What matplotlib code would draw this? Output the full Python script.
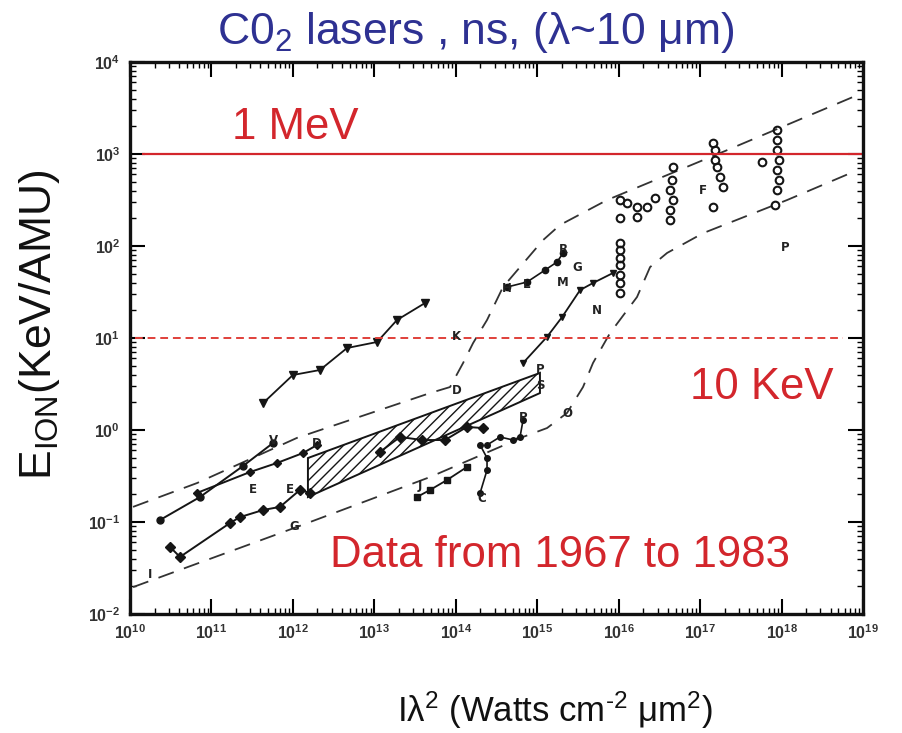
import numpy as np
import matplotlib
matplotlib.use('Agg')
import matplotlib.pyplot as plt
from matplotlib.ticker import LogLocator, NullFormatter

plt.rcParams['font.family'] = ['Liberation Sans', 'DejaVu Sans']
plt.rcParams['mathtext.fontset'] = 'custom'
plt.rcParams['mathtext.rm'] = 'Liberation Sans'
plt.rcParams['mathtext.it'] = 'Liberation Sans:italic'
plt.rcParams['mathtext.bf'] = 'Liberation Sans:bold'
plt.rcParams['mathtext.default'] = 'regular'
plt.rcParams['hatch.linewidth'] = 1.0

# ---------------- data ----------------
upper_env_x = [1.09e10, 6.65e10, 1.12e12, 4.83e13, 8.5e13, 1.23e14, 1.63e14, 2.42e14,
               3.8e14, 6.15e14, 1.18e15, 1.9e15, 7.2e15, 2.14e17, 7.55e18]
upper_env_y = [0.146, 0.265, 0.82, 2.52, 2.93, 5.35, 8.8, 15.7, 35.8, 59, 116, 169,
               316, 1100, 4170]
lower_env_x = [1.09e10, 1.12e12, 4.83e13, 6.7e14, 1.32e15, 2.32e15, 3.65e15, 4.84e15,
               7.83e15, 1.68e16, 2.43e16, 3.93e16, 1.09e17, 1.17e18, 7.55e18]
lower_env_y = [0.0196, 0.0883, 0.308, 0.84, 1.05, 1.53, 2.93, 5.35, 11.3, 27.9, 59, 84,
               138, 316, 637]

tri_x = [4.3e11, 1.0e12, 2.15e12, 4.62e12, 1.08e13, 1.9e13, 4.19e13]
tri_y = [1.96, 3.96, 4.49, 7.78, 9.05, 15.7, 24.0]

s2a_x = [2.33e10, 7.24e10, 2.44e11, 5.7e11]
s2a_y = [0.105, 0.187, 0.406, 0.722]
s2b_x = [6.65e10, 2.97e11, 6.38e11, 1.33e12, 1.98e12]
s2b_y = [0.207, 0.349, 0.438, 0.562, 0.687]

s3_x = [3.1e10, 4.11e10, 1.69e11, 2.24e11, 4.3e11, 6.95e11, 1.22e12, 1.62e12]
s3_y = [0.0535, 0.0417, 0.0975, 0.113, 0.135, 0.146, 0.223, 0.207]

hatch_x = [1.53e12, 1.08e15, 1.08e15, 1.53e12]
hatch_y = [0.496, 4.17, 2.52, 0.187]

s4_x = [1.17e13, 2.07e13, 3.85e13, 7.38e13, 1.37e14, 2.16e14]
s4_y = [0.577, 0.84, 0.778, 0.778, 1.08, 1.05]

j_x = [3.34e13, 4.83e13, 7.8e13, 1.37e14]
j_y = [0.187, 0.223, 0.286, 0.396]

c_x = [1.99e14, 2.42e14, 2.42e14, 1.99e14]
c_y = [0.687, 0.496, 0.367, 0.207]

p_x = [2.42e14, 3.49e14, 5.05e14, 6.15e14, 6.7e14]
p_y = [0.687, 0.84, 0.778, 0.84, 1.28]

rise_x = [6.7e14, 1.32e15, 2.02e15, 3.36e15, 4.84e15, 8.53e15]
rise_y = [5.35, 10.3, 16.9, 33.2, 39.6, 50.9]

hl_x = [4.26e14, 7.5e14, 1.25e15, 1.75e15, 2.08e15]
hl_y = [35.8, 40.6, 54.8, 67.0, 84.0]

col16_x = [1.04e16] * 7
col16_y = [108, 90.5, 74, 62, 48.4, 39.6, 30.8]

open_x = [1.04e16, 1.27e16, 1.68e16, 1.04e16, 1.68e16, 2.23e16, 2.79e16, 4.27e16,
          4.65e16, 4.27e16, 4.27e16, 4.65e16, 4.5e16,
          1.44e17, 1.53e17, 1.53e17, 1.61e17, 1.76e17, 1.92e17, 1.44e17,
          8.8e17, 8.8e17, 8.8e17, 9.35e17, 8.8e17, 9.35e17, 8.8e17, 5.75e17, 8.3e17]
open_y = [316, 293, 265, 201, 207, 265, 333, 406, 316, 246, 192, 722, 521,
          1318, 1105, 861, 722, 562, 438, 265,
          1823, 1420, 1100, 861, 670, 521, 406, 818, 279]

letters = ['K', 'H', 'L', 'R', 'G', 'M', 'N', 'F', 'P', 'E', 'E', 'G', 'I', 'V', 'D',
           'C', 'J', 'O', 'P', 'S', 'P', 'D']
letter_x = [1.01e14, 4.26e14, 7.5e14, 2.08e15, 3.08e15, 2.08e15, 5.42e15, 1.09e17,
            1.1e18, 3.24e11, 9.2e11, 1.03e12, 1.76e10, 5.7e11, 1.98e12, 2.1e14, 3.64e13,
            2.32e15, 1.08e15, 1.08e15, 6.7e14, 1.04e14]
letter_y = [10.3, 34.1, 38.0, 90.5, 57.7, 40.6, 20.1, 406, 97.5, 0.223, 0.223, 0.0883,
            0.0272, 0.778, 0.722, 0.182, 0.252, 1.53, 4.49, 3.08, 1.38, 2.72]

mev_level = 1e3
kev_level = 10

# ---------------- figure ----------------
W, H = 903, 733
fig = plt.figure(figsize=(W / 100, H / 100), dpi=100)
ax = fig.add_axes([130 / W, 1 - 614 / H, (863 - 130) / W, (614 - 62) / H])
ax.set_xscale('log')
ax.set_yscale('log')
ax.set_xlim(1e10, 1e19)
ax.set_ylim(1e-2, 1e4)

ink = '#151515'
dash = (0, (9, 6))
ax.plot(upper_env_x, upper_env_y, color='#333333', lw=1.3, ls=dash)
ax.plot(lower_env_x, lower_env_y, color='#333333', lw=1.3, ls=dash)

ax.fill(hatch_x, hatch_y, facecolor='none', edgecolor=ink, hatch='///', lw=1.4)

ax.plot(tri_x, tri_y, color=ink, lw=1.3, marker='v', ms=5.5)
ax.plot(s2a_x, s2a_y, color=ink, lw=1.4, marker='o', ms=5)
ax.plot(s2b_x, s2b_y, color=ink, lw=1.4, marker='D', ms=4.5)
ax.plot(s3_x, s3_y, color=ink, lw=1.4, marker='D', ms=5.5)
ax.plot(s4_x, s4_y, color=ink, lw=1.4, marker='D', ms=5.5)
ax.plot(j_x, j_y, color=ink, lw=1.3, marker='s', ms=4.5)
ax.plot(c_x, c_y, color=ink, lw=1.2, marker='o', ms=4)
ax.plot(p_x, p_y, color=ink, lw=1.2, marker='o', ms=4)
ax.plot(rise_x, rise_y, color=ink, lw=1.3, marker='v', ms=5)
ax.plot(hl_x, hl_y, color=ink, lw=1.2, marker='o', ms=4.5)
ax.plot(col16_x, col16_y, color=ink, lw=0, marker='o', ms=5.5, mfc='none', mew=1.5)
ax.plot(open_x, open_y, color=ink, lw=0, marker='o', ms=5.5, mfc='none', mew=1.5)

for t, x, y in zip(letters, letter_x, letter_y):
    ax.text(x, y, t, fontsize=8.5, fontweight='bold', color='#222222',
            ha='center', va='center', family='DejaVu Sans')

red = '#d3262c'
ax.hlines(mev_level, 1.4e10, 1e19, color=red, lw=1.6)
ax.hlines(kev_level, 1.15e10, 5.7e18, color='#e0403a', lw=1.4, ls=(0, (4, 2.5)))

# axes styling
for s in ax.spines.values():
    s.set_linewidth(2.4)
    s.set_color('#111111')
ax.xaxis.set_major_locator(LogLocator(base=10, numticks=20))
ax.yaxis.set_major_locator(LogLocator(base=10, numticks=20))
ax.xaxis.set_minor_locator(LogLocator(base=10, subs=np.arange(2, 10), numticks=20))
ax.yaxis.set_minor_locator(LogLocator(base=10, subs=np.arange(2, 10), numticks=20))
ax.xaxis.set_minor_formatter(NullFormatter())
ax.yaxis.set_minor_formatter(NullFormatter())
ax.tick_params(which='major', direction='in', length=11, width=1.5, top=True, right=True,
               labelsize=11.5, labelcolor='#333333', pad=7)
ax.tick_params(which='minor', direction='in', length=4, width=1.0, top=True, right=True)
for lab in ax.get_xticklabels() + ax.get_yticklabels():
    lab.set_fontweight('bold')

# texts
fig.text(476 / W, 1 - 44 / H, 'C0$_2$ lasers , ns, (λ~10 μm)', color='#2e3192',
         fontsize=32, ha='center', va='baseline')
fig.text(40 / W, 1 - 325 / H, 'E$_{ION}$(KeV/AMU)', rotation=90, fontsize=32,
         ha='center', va='center', color='#111111')
fig.text(555 / W, 1 - 722 / H, r'Iλ$^2$ (Watts cm$^{\text{-}2}$ μm$^2$)', fontsize=25,
         ha='center', va='baseline', color='#111111')
fig.text(232 / W, 1 - 139 / H, '1 MeV', color=red, fontsize=31.5, ha='left', va='baseline')
fig.text(690 / W, 1 - 399 / H, '10 KeV', color=red, fontsize=31.5, ha='left', va='baseline')
fig.text(330 / W, 1 - 567 / H, 'Data from 1967 to 1983', color=red, fontsize=31.5,
         ha='left', va='baseline')

fig.savefig('out.png', dpi=100)
